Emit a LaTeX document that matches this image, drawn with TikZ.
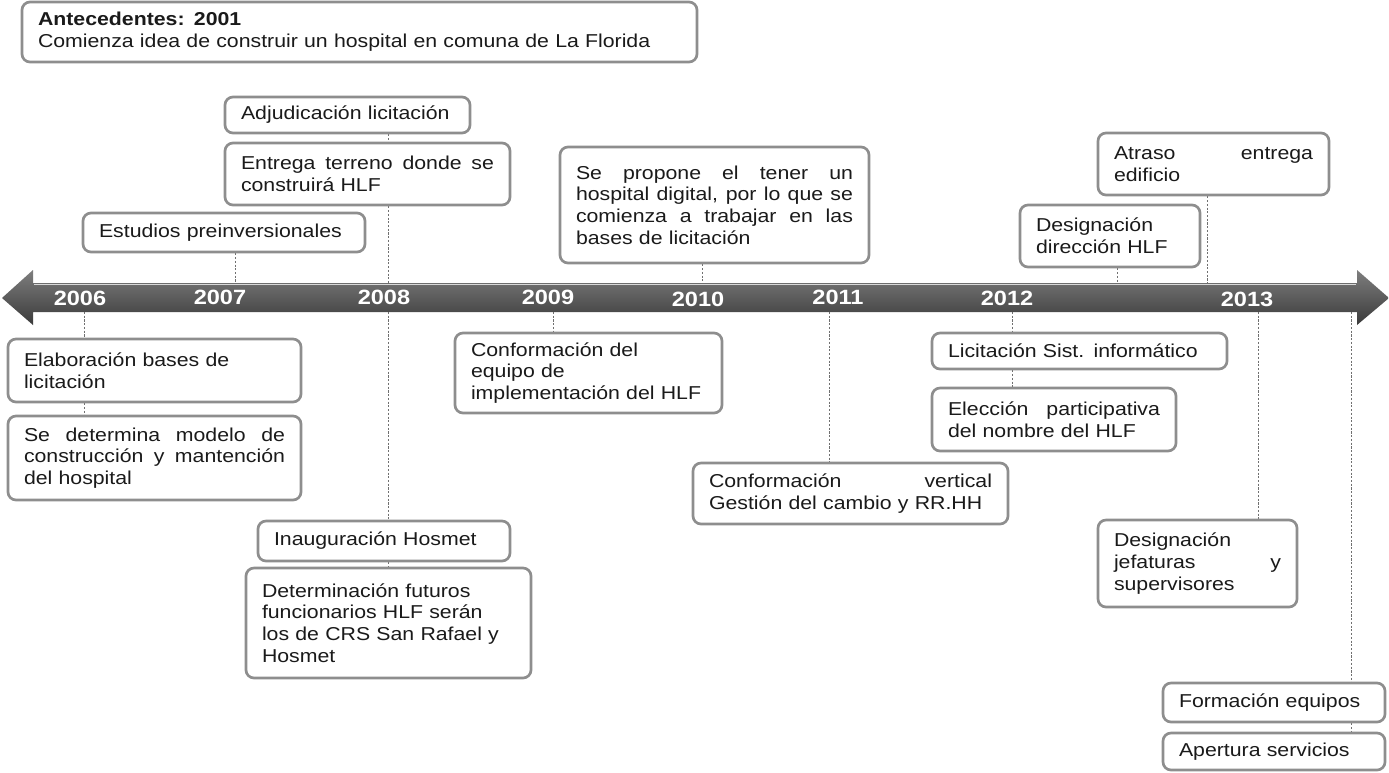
\documentclass[tikz,border=0pt]{standalone}
\usepackage{fontspec}
\setmainfont{Liberation Sans}[FakeStretch=1.14]
\usetikzlibrary{backgrounds}
\definecolor{boxgray}{HTML}{8E8E8E}
\definecolor{txt}{HTML}{1A1A1A}
\definecolor{linegray}{HTML}{707070}
\definecolor{tlA}{HTML}{7E7E7E}
\definecolor{tlB}{HTML}{535353}
\definecolor{tlC}{HTML}{3A3A3A}
\newcommand\bodyfont{\fontsize{14}{16.3}\selectfont}
\newcommand\jline[1]{\makebox[\hsize][s]{\spaceskip=0pt\xspaceskip=0pt #1}\\}
\newcommand\evbox[6]{%
  \pgfmathsetmacro\evw{(#4-#2)*0.75}%
  \pgfmathsetmacro\evh{(#5-#3)*0.75}%
  \pgfmathsetmacro\evtw{(#4-#2)*0.75-24}%
  \node[evt, minimum width=\evw pt, minimum height=\evh pt, text width=\evtw pt] (#1) at ({(#2+#4)/2},{(#3+#5)/2}) {#6};}
\tikzset{
  evt/.style={draw=boxgray, line width=2pt, rounded corners=6pt, fill=white,
    inner xsep=12pt, inner ysep=0pt, align=left, font=\bodyfont, text=txt},
  conn/.style={linegray, line width=0.6pt, dash pattern=on 1.6pt off 1.2pt},
  yr/.style={text=white, font=\fontsize{15.5}{18}\selectfont\bfseries, inner sep=0pt}
}
\begin{document}
\begin{tikzpicture}[x=0.75pt, y=-0.75pt]
\useasboundingbox (0,0) rectangle (1389,772);
\begin{scope}[on background layer]
\fill[white] (0,0) rectangle (1389,772);
\end{scope}

% timeline
\shade[top color=tlA, middle color=tlB, bottom color=tlC]
  (2,298) -- (33,270) -- (33,283) -- (1357,283) -- (1357,270) -- (1389,298)
  -- (1357,325) -- (1357,312) -- (33,312) -- (33,325) -- cycle;
\draw[white!70!gray, line width=0.8pt] (34,284.5) -- (1356,284.5);

\node[yr] (y06) at (80,298) {2006};
\node[yr] (y07) at (220,297) {2007};
\node[yr] (y08) at (384,297) {2008};
\node[yr] (y09) at (548,297) {2009};
\node[yr] (y10) at (698,299) {2010};
\node[yr] (y11) at (838,297) {2011};
\node[yr] (y12) at (1007,298) {2012};
\node[yr] (y13) at (1247,299) {2013};

% coordinates on the timeline
\coordinate (c07) at (235,283);
\coordinate (c08t) at (388,283);
\coordinate (c08b) at (388,312);
\coordinate (c10) at (702,283);
\coordinate (c12a) at (1117,283);
\coordinate (c12b) at (1207,283);
\coordinate (c06) at (84,312);
\coordinate (c09) at (553,312);
\coordinate (c11) at (829,312);
\coordinate (c12) at (1012,312);
\coordinate (c13) at (1258,312);
\coordinate (c13b) at (1351,312);

% upper boxes
\evbox{ante}{22}{2}{697}{62}{\textbf{Antecedentes: 2001}\\Comienza idea de construir un hospital en comuna de La Florida}
\evbox{adj}{225}{97}{470}{133}{Adjudicación licitación}
\evbox{ent}{225}{143}{510}{205}{\jline{Entrega terreno donde se}construirá HLF}
\evbox{est}{83}{213}{365}{252}{Estudios preinversionales}
\evbox{prop}{560}{147}{869}{263}{\jline{Se propone el tener un}\jline{hospital digital, por lo que se}\jline{comienza a trabajar en las}bases de licitación}
\evbox{atr}{1098}{133}{1329}{195}{\jline{Atraso entrega}edificio}
\evbox{desd}{1020}{205}{1200}{267}{Designación\\dirección HLF}

% lower boxes
\evbox{elab}{8}{339}{301}{402}{Elaboración bases de\\licitación}
\evbox{sedet}{8}{416}{301}{500}{\jline{Se determina modelo de}\jline{construcción y mantención}del hospital}
\evbox{conf}{455}{333}{722}{413}{Conformación del\\equipo de\\implementación del HLF}
\evbox{inaug}{258}{521}{510}{561}{Inauguración Hosmet}
\evbox{detf}{246}{568}{531}{678}{Determinación futuros\\funcionarios HLF serán\\los de CRS San Rafael y\\Hosmet}
\evbox{lic}{932}{333}{1227}{369}{Licitación Sist. informático}
\evbox{elec}{932}{388}{1176}{451}{\jline{Elección participativa}del nombre del HLF}
\evbox{confv}{693}{463}{1008}{524}{\jline{Conformación vertical}Gestión del cambio y RR.HH}
\evbox{desj}{1098}{520}{1297}{607}{Designación\\\jline{jefaturas y}supervisores}
\evbox{form}{1163}{683}{1385}{722}{Formación equipos}
\evbox{aper}{1163}{733}{1385}{770}{Apertura servicios}

\begin{scope}[on background layer]
\draw[conn] (est.south -| c07) -- (c07);
\draw[conn] (adj.south -| c08t) -- (ent.north -| c08t);
\draw[conn] (ent.south -| c08t) -- (c08t);
\draw[conn] (c08b) -- (inaug.north -| c08b);
\draw[conn] (inaug.south -| c08b) -- (detf.north -| c08b);
\draw[conn] (prop.south -| c10) -- (c10);
\draw[conn] (desd.south -| c12a) -- (c12a);
\draw[conn] (atr.south -| c12b) -- (c12b);
\draw[conn] (c06) -- (elab.north -| c06);
\draw[conn] (elab.south -| c06) -- (sedet.north -| c06);
\draw[conn] (c09) -- (conf.north -| c09);
\draw[conn] (c11) -- (confv.north -| c11);
\draw[conn] (c12) -- (lic.north -| c12);
\draw[conn] (lic.south -| c12) -- (elec.north -| c12);
\draw[conn] (c13) -- (desj.north -| c13);
\draw[conn] (c13b) -- (form.north -| c13b);
\draw[conn] (form.south -| c13b) -- (aper.north -| c13b);
\end{scope}
\end{tikzpicture}
\end{document}
